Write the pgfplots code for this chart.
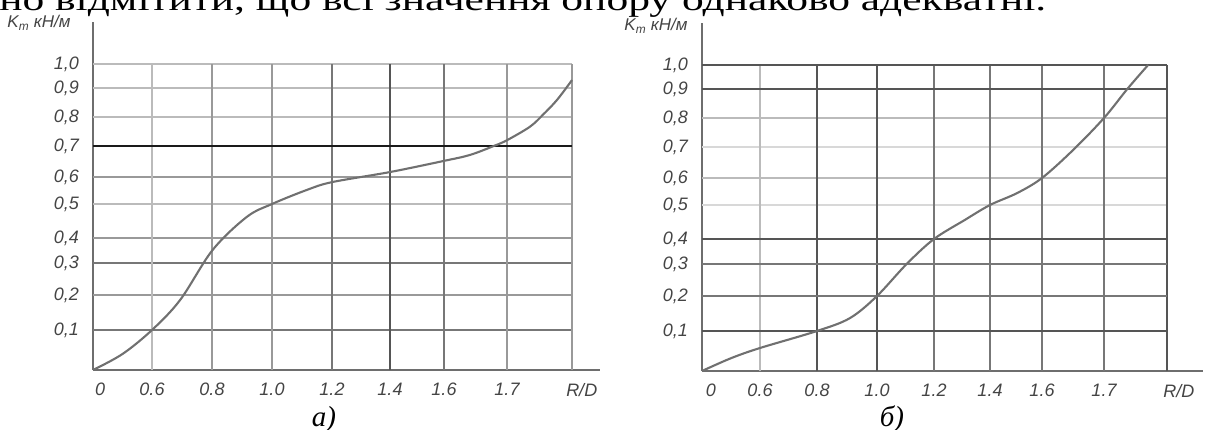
\documentclass[border=0pt]{standalone}
\usepackage{pgfplots}
\pgfplotsset{compat=1.18}
\usepackage{fontspec}
\setmainfont{Liberation Serif}
\newfontfamily\lab{Liberation Sans}

\definecolor{axgray}{HTML}{6E6E6E}
\definecolor{curvegray}{HTML}{707070}
\definecolor{labgray}{HTML}{444444}
\definecolor{gA}{HTML}{555555}
\definecolor{gB}{HTML}{777777}
\definecolor{gC}{HTML}{999999}
\definecolor{gD}{HTML}{BBBBBB}
\definecolor{gE}{HTML}{D8D8D8}
\definecolor{gK}{HTML}{1A1A1A}

% read the input in either number format, as a fixed-point value in \v
\newcommand\getfixed[1]{%
  \pgfkeys{/pgf/fpu=true}\pgfmathparse{#1}%
  \pgfmathfloattofixed{\pgfmathresult}\let\v\pgfmathresult
  \pgfkeys{/pgf/fpu=false}}
% hand-drawn (non-uniform) grid of the reference: value -> drawn position
\newcommand\ytrafo[1]{%
  \begingroup\getfixed{#1}%
  \pgfmathparse{(\v<0.1)?(400*\v):((\v<0.2)?(40+350*(\v-0.1)):((\v<0.3)?(75+320*(\v-0.2)):((\v<0.4)?(107+250*(\v-0.3)):((\v<0.5)?(132+340*(\v-0.4)):((\v<0.6)?(166+270*(\v-0.5)):((\v<0.7)?(193+310*(\v-0.6)):((\v<0.8)?(224+290*(\v-0.7)):((\v<0.9)?(253+290*(\v-0.8)):((\v<1.0)?(282+240*(\v-0.9)):(306+240*(\v-1)))))))))))}%
  \xdef\myTrafoRes{\pgfmathresult}\endgroup
  \let\pgfmathresult\myTrafoRes}
\newcommand\xtrafoL[1]{%
  \begingroup\getfixed{#1}%
  \pgfmathparse{(\v<1)?(59*\v):((\v<2)?(59+60*(\v-1)):((\v<3)?(119+60*(\v-2)):((\v<4)?(179+60*(\v-3)):((\v<5)?(239+58*(\v-4)):((\v<6)?(297+54*(\v-5)):((\v<7)?(351+63*(\v-6)):((\v<8)?(414+65*(\v-7)):(479+65*(\v-8)))))))))}%
  \xdef\myTrafoRes{\pgfmathresult}\endgroup
  \let\pgfmathresult\myTrafoRes}
\newcommand\xtrafoR[1]{%
  \begingroup\getfixed{#1}%
  \pgfmathparse{(\v<1)?(58*\v):((\v<2)?(58+57*(\v-1)):((\v<3)?(115+60*(\v-2)):((\v<4)?(175+57*(\v-3)):((\v<5)?(232+56*(\v-4)):((\v<6)?(288+52*(\v-5)):((\v<7)?(340+62*(\v-6)):((\v<8)?(402+63*(\v-7)):(465+63*(\v-8)))))))))}%
  \xdef\myTrafoRes{\pgfmathresult}\endgroup
  \let\pgfmathresult\myTrafoRes}

\tikzset{
  gl/.style={line width=1.1bp},
  kcurve/.style={smooth, tension=0.55, draw=curvegray, line width=2.1bp},
}
\pgfplotsset{
  myaxis/.style={
    x=1bp, y=1bp, anchor=south west, clip=false,
    ymin=0, ymax=1.175,
    y coord trafo/.code={\ytrafo{##1}},
    axis x line=bottom, axis y line=left,
    axis line style={-, draw=axgray, line width=2bp},
    x axis line style={-}, y axis line style={-},
    major tick length=0pt,
    ytick={0.1,0.2,0.3,0.4,0.5,0.6,0.7,0.8,0.9,1.0},
    yticklabels={{0,1},{0,2},{0,3},{0,4},{0,5},{0,6},{0,7},{0,8},{0,9},{1,0}},
    xticklabels={0,0.6,0.8,1.0,1.2,1.4,1.6,1.7,R/D},
    tick label style={font=\lab\itshape\fontsize{18bp}{18bp}\selectfont, text=labgray},
    yticklabel style={anchor=east, inner sep=0pt, xshift=-14bp},
    xticklabel style={anchor=north, inner sep=0pt, yshift=-13bp},
  },
}

\begin{document}
\begin{tikzpicture}
\path[use as bounding box] (0,0) rectangle (1205bp,430bp);

% ---------- panel a)
\begin{axis}[myaxis, at={(93bp,60bp)},
  xmin=0, xmax=8.43,
  x coord trafo/.code={\xtrafoL{#1}},
  xtick={0.12,1,2,3,4,5,6,7,8.15}]
\draw[gl, gD] (axis cs:0,1.0) -- (axis cs:8,1.0);
\draw[gl, gD] (axis cs:0,0.9) -- (axis cs:8,0.9);
\draw[gl, gD] (axis cs:0,0.8) -- (axis cs:8,0.8);
\draw[gl, gC] (axis cs:0,0.6) -- (axis cs:8,0.6);
\draw[gl, gD] (axis cs:0,0.5) -- (axis cs:8,0.5);
\draw[gl, gC] (axis cs:0,0.4) -- (axis cs:8,0.4);
\draw[gl, gB] (axis cs:0,0.3) -- (axis cs:8,0.3);
\draw[gl, gC] (axis cs:0,0.2) -- (axis cs:8,0.2);
\draw[gl, gB] (axis cs:0,0.1) -- (axis cs:8,0.1);
\draw[gl, gD] (axis cs:1,0) -- (axis cs:1,1.0);
\draw[gl, gC] (axis cs:2,0) -- (axis cs:2,1.0);
\draw[gl, gC] (axis cs:3,0) -- (axis cs:3,1.0);
\draw[gl, gB] (axis cs:4,0) -- (axis cs:4,1.0);
\draw[gl, gA] (axis cs:5,0) -- (axis cs:5,1.0);
\draw[gl, gB] (axis cs:6,0) -- (axis cs:6,1.0);
\draw[gl, gC] (axis cs:7,0) -- (axis cs:7,1.0);
\draw[gl, gC] (axis cs:8,0) -- (axis cs:8,1.0);
\draw[gl, gK] (axis cs:0,0.7) -- (axis cs:8,0.7);
\addplot[kcurve] coordinates {
 (0,0) (0.5,0.04) (1,0.1) (1.47,0.186) (2.01,0.352)
 (2.58,0.462) (3,0.5) (3.58,0.552) (4,0.581) (5,0.616) (6,0.652)
 (6.41,0.671) (6.79,0.7) (7,0.72) (7.35,0.766) (7.55,0.807) (7.77,0.859) (8,0.933)};
\end{axis}

% ---------- panel b)
\begin{axis}[myaxis, at={(702bp,59bp)},
  xmin=0, xmax=8.57,
  x coord trafo/.code={\xtrafoR{#1}},
  xtick={0.155,1,2,3,4,5,6,7,8.19}]
\draw[gl, gD] (axis cs:0,0.8) -- (axis cs:8,0.8);
\draw[gl, gE] (axis cs:0,0.7) -- (axis cs:8,0.7);
\draw[gl, gD] (axis cs:0,0.6) -- (axis cs:8,0.6);
\draw[gl, gE] (axis cs:0,0.5) -- (axis cs:8,0.5);
\draw[gl, gD] (axis cs:1,0) -- (axis cs:1,1.0);
\draw[gl, gA] (axis cs:2,0) -- (axis cs:2,1.0);
\draw[gl, gA] (axis cs:3,0) -- (axis cs:3,1.0);
\draw[gl, gB] (axis cs:4,0) -- (axis cs:4,1.0);
\draw[gl, gB] (axis cs:5,0) -- (axis cs:5,1.0);
\draw[gl, gB] (axis cs:6,0) -- (axis cs:6,1.0);
\draw[gl, gB] (axis cs:7,0) -- (axis cs:7,1.0);
\draw[gl, gA] (axis cs:8,0) -- (axis cs:8,1.0);
\draw[gl, gA] (axis cs:0,1.0) -- (axis cs:8,1.0);
\draw[gl, gA] (axis cs:0,0.9) -- (axis cs:8,0.9);
\draw[gl, gA] (axis cs:0,0.4) -- (axis cs:8,0.4);
\draw[gl, gB] (axis cs:0,0.3) -- (axis cs:8,0.3);
\draw[gl, gB] (axis cs:0,0.2) -- (axis cs:8,0.2);
\draw[gl, gA] (axis cs:0,0.1) -- (axis cs:8,0.1);
\addplot[kcurve] coordinates {
 (0,0) (0.5,0.032) (1,0.0575) (2,0.1) (2.55,0.137) (3,0.2) (3.52,0.3)
 (4,0.4) (4.55,0.456) (5,0.5) (5.52,0.544) (6,0.6) (6.5,0.69) (7,0.8)
 (7.37,0.9) (7.7,1.0)};
\end{axis}

% ---------- texts
\node[anchor=base west, inner sep=0pt, xscale=1.36, transform shape] at (-1bp,419bp)
  {\fontsize{32bp}{32bp}\selectfont но відмітити, що всі значення опору однаково адекватні.};
\node[text=labgray] at (39bp,407bp)
  {\lab\itshape\fontsize{17bp}{17bp}\selectfont K\textsubscript{т} кН/м};
\node[text=labgray] at (656bp,404bp)
  {\lab\itshape\fontsize{17bp}{17bp}\selectfont K\textsubscript{т} кН/м};
\node[anchor=base, inner sep=0pt] at (324bp,4bp)
  {\fontsize{29bp}{29bp}\selectfont\itshape а)};
\node[anchor=base, inner sep=0pt] at (892bp,4bp)
  {\fontsize{29bp}{29bp}\selectfont\itshape б)};
\end{tikzpicture}
\end{document}
